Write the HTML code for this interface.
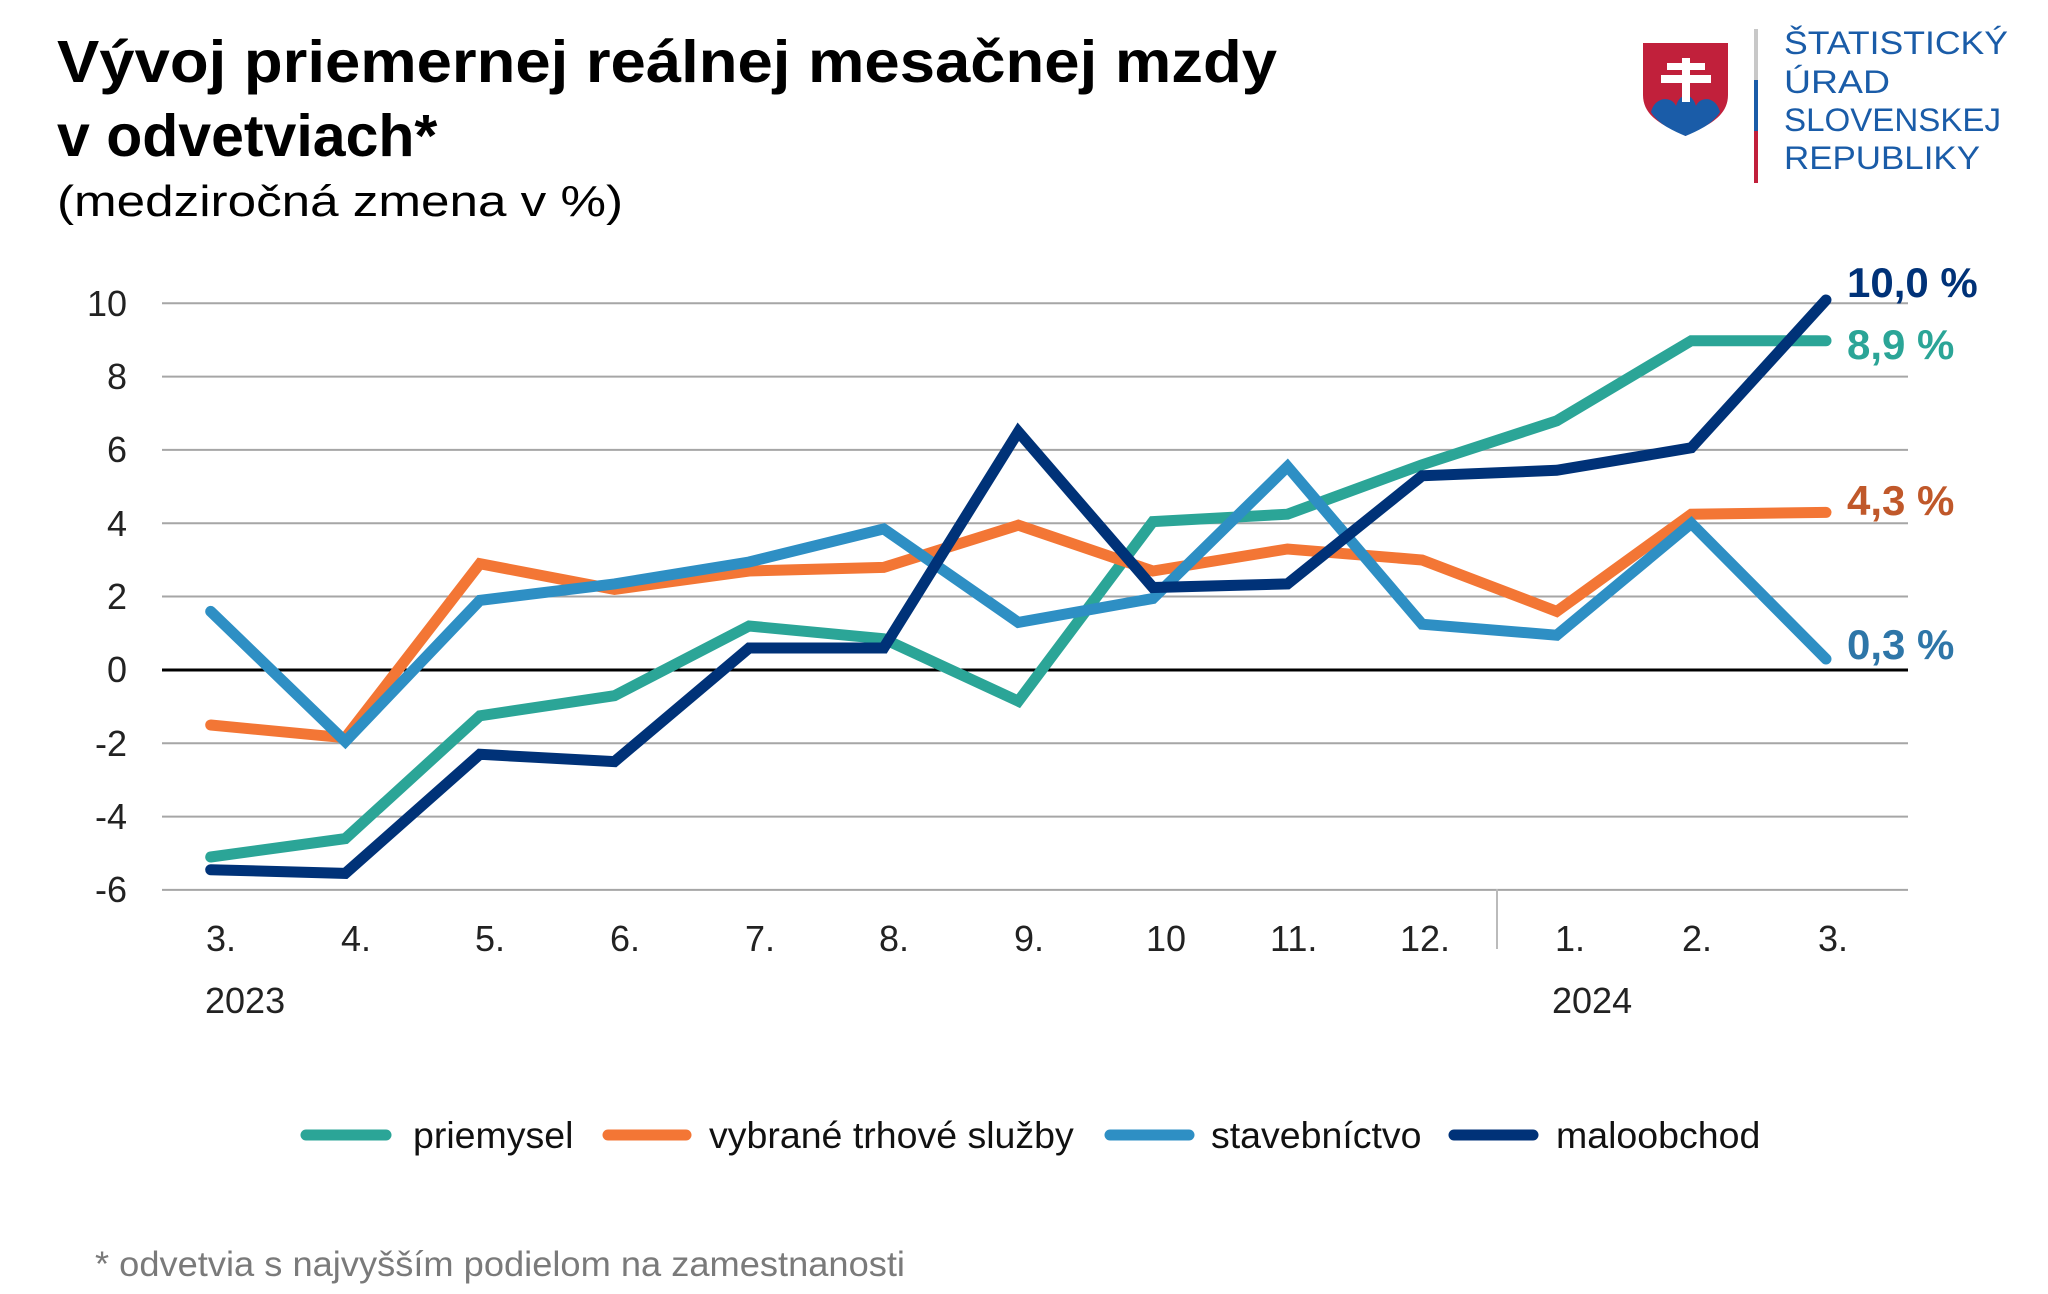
<!DOCTYPE html>
<html><head><meta charset="utf-8"><style>html,body{margin:0;padding:0;background:#fff}svg{display:block}</style></head>
<body>
<svg width="2048" height="1294" viewBox="0 0 2048 1294" xmlns="http://www.w3.org/2000/svg" font-family="Liberation Sans, Arial, sans-serif">
<rect width="2048" height="1294" fill="#fff"/>
<text x="57" y="82" font-size="59" font-weight="bold" fill="#000" textLength="1220" lengthAdjust="spacingAndGlyphs">Vývoj priemernej reálnej mesačnej mzdy</text>
<text x="57" y="156" font-size="59" font-weight="bold" fill="#000">v odvetviach*</text>
<text x="57" y="216" font-size="44" fill="#000" textLength="566" lengthAdjust="spacingAndGlyphs">(medziročná zmena v %)</text>

<!-- logo -->
<path d="M1643 43 L1728 43 L1728 95 C1728 120 1700 128 1685.5 136 C1671 128 1643 120 1643 95 Z" fill="#c1203b"/>
<path d="M1651 112 C1655 96 1672 96 1676 106 C1680 92 1692 92 1696 106 C1700 96 1716 96 1720 112 C1712 125 1697 131 1685.5 136 C1674 131 1659 125 1651 112 Z" fill="#1a5ca8"/>
<rect x="1682" y="58" width="8" height="44" fill="#fff"/>
<rect x="1667" y="63" width="38" height="7" fill="#fff"/>
<rect x="1661" y="75" width="50" height="8" fill="#fff"/>
<rect x="1754" y="29" width="4" height="51" fill="#c8c8c8"/>
<rect x="1754" y="80" width="4" height="51" fill="#1a5ca8"/>
<rect x="1754" y="131" width="4" height="52" fill="#c1203b"/>
<g fill="#1a5ca8" font-size="32">
<text x="1784" y="54" textLength="224" lengthAdjust="spacingAndGlyphs">ŠTATISTICKÝ</text>
<text x="1784" y="93" textLength="106" lengthAdjust="spacingAndGlyphs">ÚRAD</text>
<text x="1784" y="131" textLength="217" lengthAdjust="spacingAndGlyphs">SLOVENSKEJ</text>
<text x="1784" y="169" textLength="196" lengthAdjust="spacingAndGlyphs">REPUBLIKY</text>
</g>

<!-- grid -->
<g stroke="#a6a6a6" stroke-width="2">
<line x1="162" x2="1908" y1="303.3" y2="303.3"/>
<line x1="162" x2="1908" y1="376.6" y2="376.6"/>
<line x1="162" x2="1908" y1="449.9" y2="449.9"/>
<line x1="162" x2="1908" y1="523.2" y2="523.2"/>
<line x1="162" x2="1908" y1="596.5" y2="596.5"/>
<line x1="162" x2="1908" y1="743.3" y2="743.3"/>
<line x1="162" x2="1908" y1="816.6" y2="816.6"/>
<line x1="162" x2="1908" y1="889.9" y2="889.9"/>
<line x1="1497" x2="1497" y1="889" y2="949" stroke="#bbb"/>
</g>
<line x1="162" x2="1908" y1="670" y2="670" stroke="#000" stroke-width="3"/>

<g font-size="36" fill="#222" text-anchor="end">
<text x="127" y="316">10</text><text x="127" y="389">8</text><text x="127" y="462">6</text><text x="127" y="536">4</text><text x="127" y="609">2</text><text x="127" y="682">0</text><text x="127" y="756">-2</text><text x="127" y="829">-4</text><text x="127" y="902">-6</text>
</g>
<g font-size="36" fill="#222">
<text x="206" y="951">3.</text><text x="341" y="951">4.</text><text x="475" y="951">5.</text><text x="610" y="951">6.</text><text x="745" y="951">7.</text><text x="879" y="951">8.</text><text x="1014" y="951">9.</text><text x="1146" y="951">10</text><text x="1270" y="951">11.</text><text x="1400" y="951">12.</text><text x="1555" y="951">1.</text><text x="1682" y="951">2.</text><text x="1818" y="951">3.</text>
<text x="205" y="1013">2023</text><text x="1552" y="1013">2024</text>
</g>

<g fill="none" stroke-width="11" stroke-linecap="round" stroke-linejoin="miter">
<polyline stroke="#2ba597" points="210.7,857 345.3,838.6 479.9,715.8 614.5,695.7 749.1,626 883.7,638.8 1018.3,701.2 1152.9,521.6 1287.5,514.2 1422.1,464.8 1556.7,420.8 1691.3,340.7 1826,340.7"/>
<polyline stroke="#f37635" points="210.7,725 345.3,737.8 479.9,563.7 614.5,589.4 749.1,571 883.7,567.4 1018.3,525.2 1152.9,571 1287.5,549 1422.1,560 1556.7,611.4 1691.3,514.2 1826,512.4"/>
<polyline stroke="#2e8fc4" points="210.7,611.4 345.3,741.5 479.9,600.4 614.5,583.9 749.1,562 883.7,528.9 1018.3,622.4 1152.9,598.5 1287.5,466.6 1422.1,624.2 1556.7,635.2 1691.3,523.4 1826,659"/>
<polyline stroke="#003278" points="210.7,869.7 345.3,873.4 479.9,754.3 614.5,761.6 749.1,648 883.7,648 1018.3,431.8 1152.9,587.5 1287.5,583.9 1422.1,475.8 1556.7,470.3 1691.3,447.8 1826,300"/>
</g>

<g font-size="42" font-weight="bold">
<text x="1847" y="297" fill="#003278">10,0 %</text>
<text x="1847" y="359" fill="#2ba597">8,9 %</text>
<text x="1847" y="515" fill="#c0582a">4,3 %</text>
<text x="1847" y="659" fill="#2e76a8">0,3 %</text>
</g>

<g stroke-width="11" stroke-linecap="round">
<line x1="306" x2="386" y1="1135" y2="1135" stroke="#2ba597"/>
<line x1="608" x2="686" y1="1135" y2="1135" stroke="#f37635"/>
<line x1="1110" x2="1189" y1="1135" y2="1135" stroke="#2e8fc4"/>
<line x1="1454" x2="1533" y1="1135" y2="1135" stroke="#003278"/>
</g>
<g font-size="37.5" fill="#111">
<text x="413" y="1148">priemysel</text>
<text x="709" y="1148">vybrané trhové služby</text>
<text x="1211" y="1148">stavebníctvo</text>
<text x="1556" y="1148">maloobchod</text>
</g>
<text x="95" y="1276" font-size="35" fill="#7a7a7a" textLength="810" lengthAdjust="spacingAndGlyphs">* odvetvia s najvyšším podielom na zamestnanosti</text>
</svg>
</body></html>
